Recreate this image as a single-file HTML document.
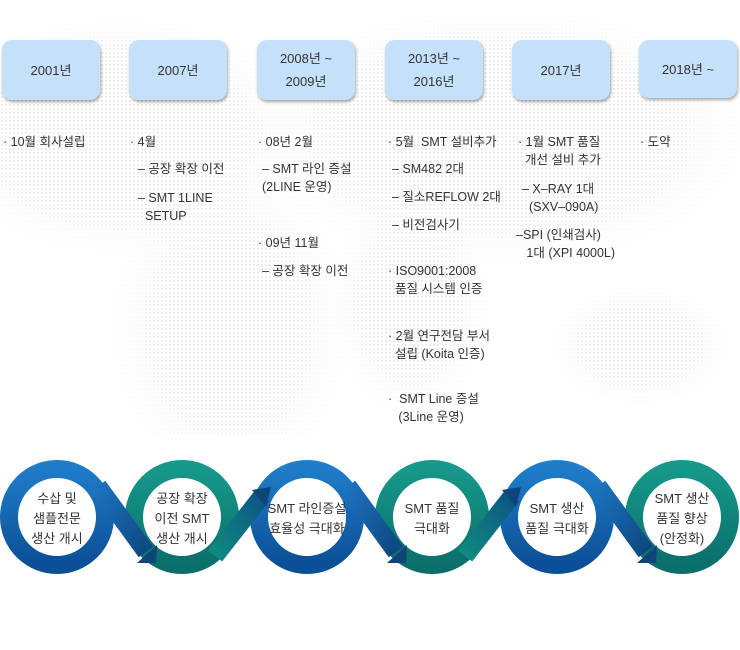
<!DOCTYPE html>
<html><head><meta charset="utf-8"><style>
body{margin:0;width:740px;height:650px;background:#fff;position:relative;overflow:hidden;font-family:"Liberation Sans","Noto Sans CJK KR",sans-serif;color:#333}
.map{position:absolute;left:0;top:15px;width:740px;height:420px;background-image:radial-gradient(circle,#e2e2e2 1px,transparent 1.2px);background-size:4px 4px;opacity:.7;
-webkit-mask-image:radial-gradient(ellipse 180px 120px at 120px 120px,#000 60%,transparent 100%),radial-gradient(ellipse 120px 160px at 230px 310px,#000 50%,transparent 100%),radial-gradient(ellipse 250px 130px at 500px 120px,#000 60%,transparent 100%),radial-gradient(ellipse 80px 110px at 410px 290px,#000 50%,transparent 100%),radial-gradient(ellipse 90px 60px at 640px 330px,#000 50%,transparent 100%);}
.box{position:absolute;top:40px;width:98px;height:60px;border-radius:10px;background:#c5e0f9;box-shadow:1px 2px 3px rgba(0,0,0,.35);display:flex;align-items:center;justify-content:center;text-align:center;font-size:13px;line-height:23px;color:#333}
.t{position:absolute;font-size:12.5px;line-height:18px;color:#333;white-space:nowrap}
.c{position:absolute;font-size:13px;line-height:20px;text-align:center;color:#333;white-space:nowrap}
</style></head><body>
<div class="map"></div>
<div class="box" style="left:2px">2001년</div>
<div class="box" style="left:129px">2007년</div>
<div class="box" style="left:257px">2008년 ~<br>2009년</div>
<div class="box" style="left:385px">2013년 ~<br>2016년</div>
<div class="box" style="left:512px">2017년</div>
<div class="box" style="left:639px;top:40px;height:58px">2018년 ~</div>

<div class="t" style="left:3px;top:133px">· 10월 회사설립</div>
<div class="t" style="left:130px;top:133px">· 4월</div>
<div class="t" style="left:138px;top:160px">– 공장 확장 이전</div>
<div class="t" style="left:138px;top:189px">– SMT 1LINE<br>&nbsp;&nbsp;SETUP</div>
<div class="t" style="left:258px;top:133px">· 08년 2월</div>
<div class="t" style="left:262px;top:160px">– SMT 라인 증설<br>(2LINE 운영)</div>
<div class="t" style="left:258px;top:234px">· 09년 11월</div>
<div class="t" style="left:262px;top:262px">– 공장 확장 이전</div>
<div class="t" style="left:388px;top:133px">· 5월&nbsp; SMT 설비추가</div>
<div class="t" style="left:392px;top:160px">– SM482 2대</div>
<div class="t" style="left:392px;top:188px">– 질소REFLOW 2대</div>
<div class="t" style="left:392px;top:216px">– 비전검사기</div>
<div class="t" style="left:388px;top:262px">· ISO9001:2008<br>&nbsp;&nbsp;품질 시스템 인증</div>
<div class="t" style="left:388px;top:327px">· 2월 연구전담 부서<br>&nbsp;&nbsp;설립 (Koita 인증)</div>
<div class="t" style="left:388px;top:390px">·&nbsp; SMT Line 증설<br>&nbsp;&nbsp;&nbsp;(3Line 운영)</div>
<div class="t" style="left:518px;top:133px">· 1월 SMT 품질<br>&nbsp;&nbsp;개선 설비 추가</div>
<div class="t" style="left:522px;top:180px">– X–RAY 1대<br>&nbsp;&nbsp;(SXV–090A)</div>
<div class="t" style="left:516px;top:226px">–SPI (인쇄검사)<br>&nbsp;&nbsp;&nbsp;1대 (XPI 4000L)</div>
<div class="t" style="left:640px;top:133px">· 도약</div>

<svg width="740" height="650" style="position:absolute;left:0;top:0">
<defs>
<linearGradient id="b" x1="0" y1="0" x2="0" y2="1"><stop offset="0" stop-color="#1f7cc8"/><stop offset="1" stop-color="#0b4f96"/></linearGradient>
<linearGradient id="g" x1="0" y1="0" x2="0" y2="1"><stop offset="0" stop-color="#16988a"/><stop offset="1" stop-color="#0a6f6a"/></linearGradient>
<linearGradient id="dd" x1="0" y1="0" x2="1" y2="1"><stop offset="0" stop-color="#1d72bf"/><stop offset="1" stop-color="#0d4880"/></linearGradient>
<linearGradient id="du" x1="0" y1="1" x2="1" y2="0"><stop offset="0" stop-color="#0f8a80"/><stop offset="1" stop-color="#0d5585"/></linearGradient>
</defs>
<g stroke-width="18" fill="none">
<circle cx="57" cy="517" r="48" stroke="url(#b)"/>
<circle cx="307" cy="517" r="48" stroke="url(#b)"/>
<circle cx="557" cy="517" r="48" stroke="url(#b)"/>
<circle cx="182" cy="517" r="48" stroke="url(#g)"/>
<circle cx="432" cy="517" r="48" stroke="url(#g)"/>
<circle cx="682" cy="517" r="48" stroke="url(#g)"/>
</g>
<g stroke-width="18" fill="none">
<path d="M98 486 L146 552" stroke="url(#dd)"/>
<path d="M348 486 L396 552" stroke="url(#dd)"/>
<path d="M598 486 L646 552" stroke="url(#dd)"/>
<path d="M215 556 L262 496" stroke="url(#du)"/>
<path d="M465 556 L512 496" stroke="url(#du)"/>
</g>
<g fill="#0d4578">
<polygon points="137,563 156,563 157,545"/>
<polygon points="387,563 406,563 407,545"/>
<polygon points="637,563 656,563 657,545"/>
<polygon points="252,490 271,487 266,507"/>
<polygon points="502,490 521,487 516,507"/>
</g>
<g fill="#fff">
<circle cx="57" cy="517" r="38"/><circle cx="182" cy="517" r="38"/><circle cx="307" cy="517" r="38"/>
<circle cx="432" cy="517" r="38"/><circle cx="557" cy="517" r="38"/><circle cx="682" cy="517" r="38"/>
</g>
</svg>
<div class="c" style="left:17px;top:489px;width:80px">수삽 및<br>샘플전문<br>생산 개시</div>
<div class="c" style="left:142px;top:489px;width:80px">공장 확장<br>이전 SMT<br>생산 개시</div>
<div class="c" style="left:262px;top:499px;width:90px">SMT 라인증설<br>효율성 극대화</div>
<div class="c" style="left:392px;top:499px;width:80px">SMT 품질<br>극대화</div>
<div class="c" style="left:517px;top:499px;width:80px">SMT 생산<br>품질 극대화</div>
<div class="c" style="left:642px;top:489px;width:80px">SMT 생산<br>품질 향상<br>(안정화)</div>
</body></html>
